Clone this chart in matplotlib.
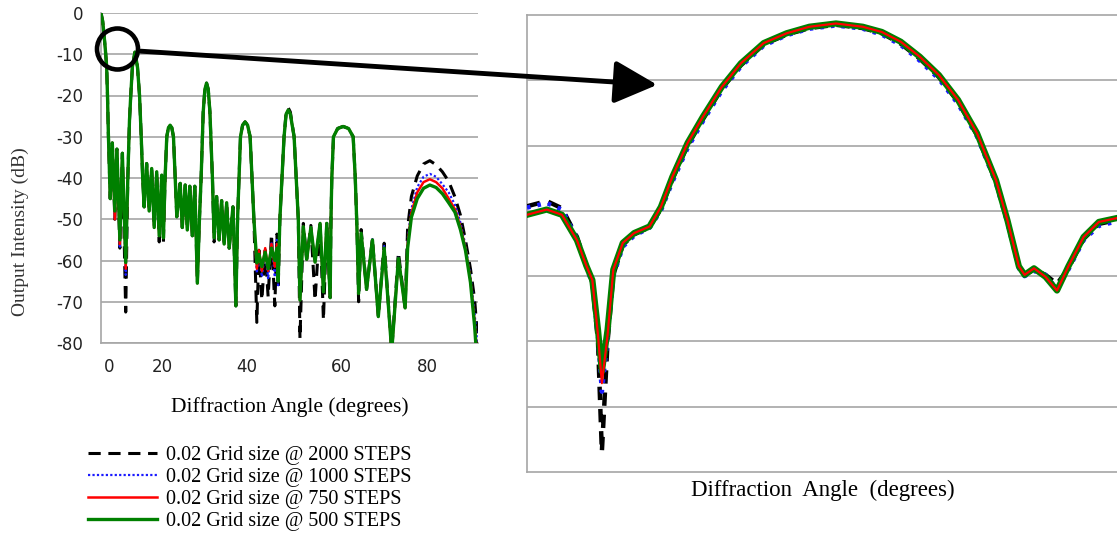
import matplotlib
matplotlib.use("Agg")
import matplotlib.pyplot as plt
from matplotlib.patches import Ellipse, FancyArrowPatch

plt.rcParams['axes.unicode_minus'] = False

# ---- main chart: output intensity (dB) against diffraction angle ----
angle = [
    0.0, 0.4, 0.7, 1.05, 1.35, 1.55, 1.75, 2.2,
    2.7, 3.3, 3.8, 4.5, 5.1, 5.9,
    6.4, 6.8, 7.1, 7.5, 8.1, 8.7, 9.2, 9.6, 9.95, 10.3,
    10.9, 11.5, 12.1, 12.7, 13.3, 13.9, 14.5, 14.9,
    15.3, 15.7, 16.1, 16.5, 16.9, 17.3, 17.7, 18.1,
    18.9, 19.4, 20.1, 20.6, 21.2, 21.8, 22.4, 23.0,
    23.5, 23.9, 24.4, 24.8, 25.2, 25.6, 26.0, 26.6, 27.0,
    27.6, 28.2, 28.8, 29.4, 30.0, 30.6, 31.5, 32.2,
    32.6, 33.3, 33.8, 34.4, 35.0, 35.6, 36.5, 37.2,
    37.7, 38.4, 39.2, 39.9, 40.7, 41.5, 42.0, 42.3,
    42.7, 43.7, 44.2, 44.7, 45.2, 46.1, 47.1, 47.5,
    48.3, 49.1, 50.1, 51.1, 52.3, 53.1, 53.9, 54.7,
    54.9, 55.1, 55.5, 56.5, 57.8, 59.1, 60.2, 60.7, 61.1, 61.5,
    62.1, 63.4, 64.8, 66.2, 67.6, 69.4, 71.0, 72.6,
    73.2, 74.1, 75.5, 77.0, 78.5, 80.0, 81.5, 83.0, 84.5, 85.8, 87.0, 88.2, 89.2, 90.0,
]

db_500 = [
    0, -2, -5, -9, -13, -20, -29, -45,
    -31.5, -48, -33, -55, -34, -60.5,
    -40, -26, -20, -13, -9.5, -13, -20, -30, -40, -47,
    -36.5, -48, -37.7, -52, -38.5, -54, -39.3, -54.5,
    -40, -30, -27.8, -27.2, -27.8, -30, -40, -49.4,
    -41.3, -52, -41.7, -52.6, -42, -54, -42, -65.5,
    -50, -40, -24, -18.5, -17, -18.5, -24, -40, -54.5,
    -44.5, -55, -45.5, -56, -46, -57, -47, -71,
    -50, -30, -27.2, -26.4, -27.2, -30, -50, -60.6,
    -58.5, -61.5, -58, -62, -57, -60, -57, -65,
    -50, -30, -24.5, -23.5, -24.5, -30, -50, -69.6,
    -51.8, -59.7, -52, -60.4, -51, -67.6, -51, -69,
    -50, -40, -30, -28, -27.5, -28, -30, -40, -52, -68,
    -53.4, -67, -55, -73.6, -57, -82, -59.5, -71.5,
    -57, -49.5, -45, -42.5, -41.7, -42.3, -43.8, -46, -48.3, -52.5, -57.5, -65.3, -76, -88,
]

db_750 = [
    0, -2, -5, -9, -13, -20, -29, -45,
    -31.5, -50, -33, -56, -34, -62,
    -40, -26, -20, -13, -9.5, -13, -20, -30, -40, -47,
    -36.5, -48, -37.7, -52, -38.5, -54, -39.3, -54.5,
    -40, -30, -27.8, -27.2, -27.8, -30, -40, -49.4,
    -41.3, -52, -41.7, -52.6, -42, -54, -42, -65.5,
    -50, -40, -24, -18.5, -17, -18.5, -24, -40, -54.5,
    -44.5, -55, -45.5, -56, -46, -57, -47, -71,
    -50, -30, -27.2, -26.4, -27.2, -30, -50, -62,
    -57.5, -62.5, -57, -62.5, -56, -61.5, -56, -65,
    -50, -30, -24.5, -23.5, -24.5, -30, -50, -69.6,
    -51.8, -59.7, -52, -60.4, -51, -67.6, -51, -69,
    -50, -40, -30, -28, -27.5, -28, -30, -40, -52, -68,
    -53.4, -67, -55, -73.6, -57, -82, -59.5, -71.5,
    -56, -48.5, -43.5, -41, -40.3, -41, -42.5, -45, -47.6, -51.8, -57, -64.7, -75, -86,
]

db_1000 = [
    0, -2, -5, -9, -13, -20, -29, -45,
    -31.5, -50, -33, -57, -34, -63.5,
    -40, -26, -20, -13, -9.5, -13, -20, -30, -40, -47,
    -36.5, -48, -37.7, -52, -38.5, -54, -39.3, -54.5,
    -40, -30, -27.8, -27.2, -27.8, -30, -40, -49.4,
    -41.3, -52, -41.7, -52.6, -42, -54, -42, -65.5,
    -50, -40, -24, -18.5, -17, -18.5, -24, -40, -54.5,
    -44.5, -55, -45.5, -56, -46, -57, -47, -71,
    -50, -30, -27.2, -26.4, -27.2, -30, -50, -63,
    -58, -64, -57.5, -64.5, -55.5, -64, -55, -66,
    -50, -30, -24.5, -23.5, -24.5, -30, -50, -69.6,
    -51.8, -59.7, -52, -60.4, -51, -67.6, -51, -69,
    -50, -40, -30, -28, -27.5, -28, -30, -40, -52, -68,
    -53, -67, -54.8, -73.6, -56.5, -82, -59, -71.5,
    -55, -47.5, -42.2, -39.7, -39.0, -39.7, -41.5, -43.5, -46.5, -50.8, -56.3, -63.8, -73, -82,
]

db_2000 = [
    0, -2, -5, -9, -13, -20, -29, -45,
    -31.5, -50, -33, -57, -34, -72.5,
    -40, -26, -20, -13, -9.5, -13, -20, -30, -40, -47,
    -36.5, -48, -37.7, -52, -38.5, -55.5, -39.3, -55.5,
    -40, -30, -27.8, -27.2, -27.8, -30, -40, -49.4,
    -41.3, -52, -41.7, -52.6, -42, -54, -42, -65.5,
    -50, -40, -24, -18.5, -17, -18.5, -24, -40, -55.5,
    -44.5, -55, -45.5, -56, -46, -57, -47, -71,
    -50, -30, -27.2, -26.4, -27.2, -30, -50, -75,
    -57.5, -69.6, -57.5, -68.8, -53.6, -71, -53.6, -67,
    -50, -30, -24, -23, -24, -30, -50, -79,
    -51, -59.7, -51.5, -69.6, -50.5, -74.4, -50.5, -69,
    -50, -40, -30, -28, -27.5, -28, -30, -40, -52, -70,
    -52.5, -67, -54.7, -73.6, -55.8, -82, -58, -71.5,
    -52, -44.5, -39.5, -36.6, -35.8, -36.8, -38.5, -40.8, -44.6, -49, -55, -62, -69.5, -80,
]

xtick_pos = [1.9, 14.6, 34.9, 57.5, 77.8]
xtick_lab = ['0', '20', '40', '60', '80']
ytick_val = [0, -10, -20, -30, -40, -50, -60, -70, -80]

labels = ['0.02 Grid size @ 2000 STEPS', '0.02 Grid size @ 1000 STEPS',
          '0.02 Grid size @ 750 STEPS', '0.02 Grid size @ 500 STEPS']

# ---- zoomed view (arbitrary units) ----
zoom_x = [0, 3.34, 5.92, 8.47, 10.1, 11.08, 12.03, 12.69, 13.66, 14.63, 16.24, 18.17,
          20.76, 22.69, 24.63, 27.22, 29.8, 33.02, 36.25, 40.12, 44.0, 47.86, 52.37,
          56.9, 60.14, 63.36, 66.58, 69.81, 73.05, 76.27, 79.49, 81.42, 83.37, 84.34,
          85.93, 87.88, 89.83, 91.76, 94.34, 96.92, 100]
zoom_500 = [-3.06, -2.98, -3.06, -3.45, -3.85, -4.06, -4.82, -5.46, -4.82, -3.9, -3.49, -3.34,
            -3.24, -2.94, -2.48, -1.96, -1.56, -1.1, -0.74, -0.43, -0.28, -0.18, -0.13,
            -0.18, -0.26, -0.41, -0.64, -0.92, -1.3, -1.81, -2.53, -3.14, -3.85, -3.98,
            -3.88, -4.01, -4.22, -3.85, -3.4, -3.17, -3.11]
zoom_750 = [-3.06, -2.98, -3.06, -3.45, -3.85, -4.06, -4.9, -5.64, -4.9, -3.9, -3.49, -3.34,
            -3.24, -2.94, -2.48, -1.96, -1.56, -1.1, -0.74, -0.43, -0.28, -0.18, -0.13,
            -0.18, -0.26, -0.41, -0.64, -0.92, -1.3, -1.81, -2.53, -3.14, -3.85, -3.98,
            -3.88, -4.01, -4.22, -3.85, -3.4, -3.17, -3.11]
zoom_1000 = [-2.95, -2.88, -2.98, -3.42, -3.87, -4.12, -4.92, -5.77, -4.95, -4.0, -3.55, -3.38,
             -3.26, -3.0, -2.56, -2.04, -1.63, -1.16, -0.79, -0.47, -0.31, -0.21, -0.16,
             -0.21, -0.3, -0.46, -0.7, -0.98, -1.36, -1.86, -2.58, -3.18, -3.88, -4.0,
             -3.92, -3.98, -4.2, -3.9, -3.45, -3.23, -3.16]
zoom_2000 = [-2.93, -2.85, -2.96, -3.4, -3.85, -4.1, -5.0, -6.69, -5.0, -3.98, -3.52, -3.36,
             -3.25, -2.97, -2.52, -2.0, -1.6, -1.13, -0.77, -0.45, -0.3, -0.2, -0.15,
             -0.2, -0.28, -0.44, -0.67, -0.95, -1.33, -1.84, -2.56, -3.16, -3.86, -3.98,
             -3.9, -3.98, -4.12, -3.88, -3.43, -3.2, -3.14]

W, H = 1117, 536
fig = plt.figure(figsize=(W / 100, H / 100), dpi=100)
grid_col = '#a6a6a6'
serif = 'Liberation Serif'

# left chart
ax = fig.add_axes([101 / W, 1 - 343 / H, 377 / W, 330 / H])
ln_k, = ax.plot(angle, db_2000, color='black', lw=2.2, ls=(0, (4, 2.5)), zorder=3)
ln_b, = ax.plot(angle, db_1000, color='#1a1aff', lw=1.6, ls=(0, (1, 1)), zorder=4)
ln_r, = ax.plot(angle, db_750, color='#ff0000', lw=1.8, zorder=5)
ln_g, = ax.plot(angle, db_500, color='#008000', lw=2.4, zorder=6)
ax.set_xlim(0, 90)
ax.set_ylim(-80, 0)
ax.set_yticks(ytick_val)
ax.set_xticks(xtick_pos)
ax.set_xticklabels(xtick_lab)
ax.tick_params(length=0, labelsize=12, colors='#222222')
ax.tick_params(axis='y', pad=13)
ax.tick_params(axis='x', pad=11)
ax.grid(axis='y', color=grid_col, lw=1.2)
ax.set_axisbelow(True)
for s in ['top', 'right']:
    ax.spines[s].set_visible(False)
for s in ['left', 'bottom']:
    ax.spines[s].set_color(grid_col)
    ax.spines[s].set_linewidth(1.2)
ax.set_xlabel('Diffraction Angle (degrees)', fontsize=15.5, family=serif)
ax.xaxis.set_label_coords(0.5, -0.165)
ax.set_ylabel('Output Intensity (dB)', fontsize=14, family=serif, color='#333333')
ax.yaxis.set_label_coords(-0.19, 0.339)

fig.legend([ln_k, ln_b, ln_r, ln_g], labels, loc='upper left',
           bbox_to_anchor=(88 / W, 1 - 446 / H), frameon=False,
           prop={'family': serif, 'size': 14.5}, handlelength=3.45,
           handletextpad=0.4, labelspacing=0.14, borderpad=0, borderaxespad=0)

# zoomed chart
ax2 = fig.add_axes([527 / W, 1 - 472 / H, 590 / W, 457 / H])
ax2.plot(zoom_x, zoom_2000, color='black', lw=3.2, ls=(0, (3, 2)), zorder=3)
ax2.plot(zoom_x, zoom_1000, color='#1a1aff', lw=3.2, ls=(0, (0.8, 1.6)), zorder=4)
ax2.plot(zoom_x, zoom_500, color='#008000', lw=4.5, zorder=5)
ax2.plot(zoom_x, zoom_750, color='#ff0000', lw=1.6, zorder=6)
ax2.set_xlim(0, 100)
ax2.set_ylim(-7, 0)
ax2.set_yticks(range(-6, 0))
ax2.set_xticks([])
ax2.tick_params(length=0, labelleft=False)
ax2.grid(axis='y', color=grid_col, lw=1.2)
ax2.set_axisbelow(True)
ax2.spines['right'].set_visible(False)
for s in ['left', 'bottom', 'top']:
    ax2.spines[s].set_color(grid_col)
    ax2.spines[s].set_linewidth(1.2)
ax2.set_xlabel('Diffraction  Angle  (degrees)', fontsize=16.5, family=serif)
ax2.xaxis.set_label_coords(0.502, -0.018)

# circle + arrow linking the two views
r = 20.5
fig.add_artist(Ellipse((117.5 / W, 1 - 49 / H), 2 * r / W, 2 * r / H,
                       transform=fig.transFigure, fill=False, ec='black', lw=3.3, zorder=10))
fig.add_artist(FancyArrowPatch((138 / W, 1 - 51 / H), (660 / W, 1 - 85 / H),
                               transform=fig.transFigure, arrowstyle='-|>,head_length=1.2,head_width=0.6',
                               mutation_scale=22, color='black', lw=3.5, zorder=10))

fig.savefig('out.png', dpi=100)
